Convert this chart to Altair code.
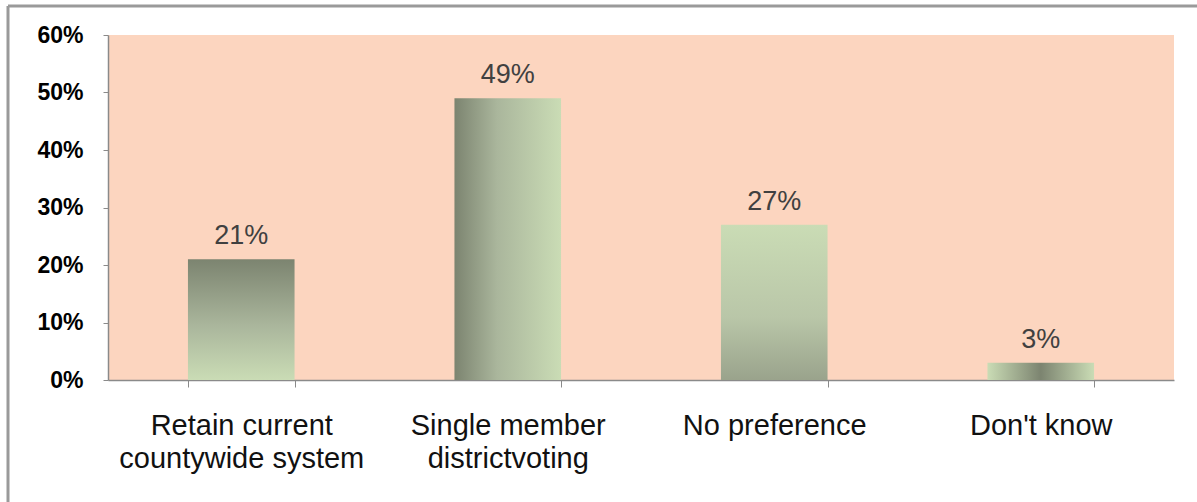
import altair as alt
import pandas as pd

categories = ["Retain current\ncountywide system", "Single member\ndistrictvoting", "No preference", "Don't know"]
values = [21, 49, 27, 3]
value_labels = ["21%", "49%", "27%", "3%"]

df = pd.DataFrame({"category": categories, "value": values, "label": value_labels})

DARK = "#7c8470"
MID = "#aab69c"
LIGHT = "#cadcb5"

gradients = [
    alt.Gradient(gradient="linear", x1=0, y1=0, x2=0, y2=1,
                 stops=[alt.GradientStop(color=DARK, offset=0), alt.GradientStop(color=MID, offset=0.55), alt.GradientStop(color=LIGHT, offset=1)]),
    alt.Gradient(gradient="linear", x1=0, y1=0, x2=1, y2=0,
                 stops=[alt.GradientStop(color=DARK, offset=0), alt.GradientStop(color=MID, offset=0.4), alt.GradientStop(color=LIGHT, offset=1)]),
    alt.Gradient(gradient="linear", x1=0, y1=0, x2=0, y2=1,
                 stops=[alt.GradientStop(color=LIGHT, offset=0), alt.GradientStop(color="#b9c6a8", offset=0.6), alt.GradientStop(color="#9aa38c", offset=1)]),
    alt.Gradient(gradient="linear", x1=0, y1=0, x2=1, y2=0,
                 stops=[alt.GradientStop(color=LIGHT, offset=0), alt.GradientStop(color=DARK, offset=0.5), alt.GradientStop(color=LIGHT, offset=1)]),
]

x_enc = alt.X("category:N", sort=categories,
              scale=alt.Scale(paddingInner=0.6, paddingOuter=0.3),
              axis=alt.Axis(title=None, labelAngle=0, labelExpr="split(datum.label, '\\n')",
                            labelFontSize=29, labelColor="#111111", labelFont="Liberation Sans",
                            labelLineHeight=33, labelBaseline="top", labelPadding=24,
                            tickBand="extent", tickSize=7, tickColor="#8a8a8a",
                            domainColor="#8a8a8a", domainWidth=1.5, labelLimit=400))
y_enc = alt.Y("value:Q",
              scale=alt.Scale(domain=[0, 60], nice=False),
              axis=alt.Axis(title=None, values=[0, 10, 20, 30, 40, 50, 60],
                            labelExpr="datum.value + '%'", labelFontSize=23,
                            labelColor="#000000", labelFont="Liberation Sans", labelFontWeight="bold",
                            labelPadding=20, tickSize=5, tickColor="#8a8a8a",
                            domainColor="#8a8a8a", domainWidth=1.5, grid=False))

base = alt.Chart(df)

bars = [
    base.transform_filter(alt.datum.category == cat)
    .mark_bar(color=g)
    .encode(x=x_enc, y=y_enc)
    for cat, g in zip(categories, gradients)
]

text = base.mark_text(baseline="alphabetic", dy=-15, fontSize=27, color="#404040",
                      font="Liberation Sans").encode(
    x=alt.X("category:N", sort=categories), y="value:Q", text="label:N")

frame_data = alt.Data(values=[{"k": 1}])
top_border = alt.Chart(frame_data).mark_rule(color="#9a9a9a", strokeWidth=3).encode(
    x=alt.value(-100), x2=alt.value(1095), y=alt.value(-29))
left_border = alt.Chart(frame_data).mark_rule(color="#9a9a9a", strokeWidth=3).encode(
    x=alt.value(-100), y=alt.value(-29), y2=alt.value(480))

chart = alt.layer(*bars, text, top_border, left_border).properties(
    width=1066, height=345,
    autosize=alt.AutoSizeParams(type="none"),
    padding={"left": 108, "top": 35, "right": 23, "bottom": 122},
    background="white",
).configure_view(fill="#FCD5BF", stroke=None)

chart.save("out.html", embed_options={"renderer": "svg", "actions": False})
